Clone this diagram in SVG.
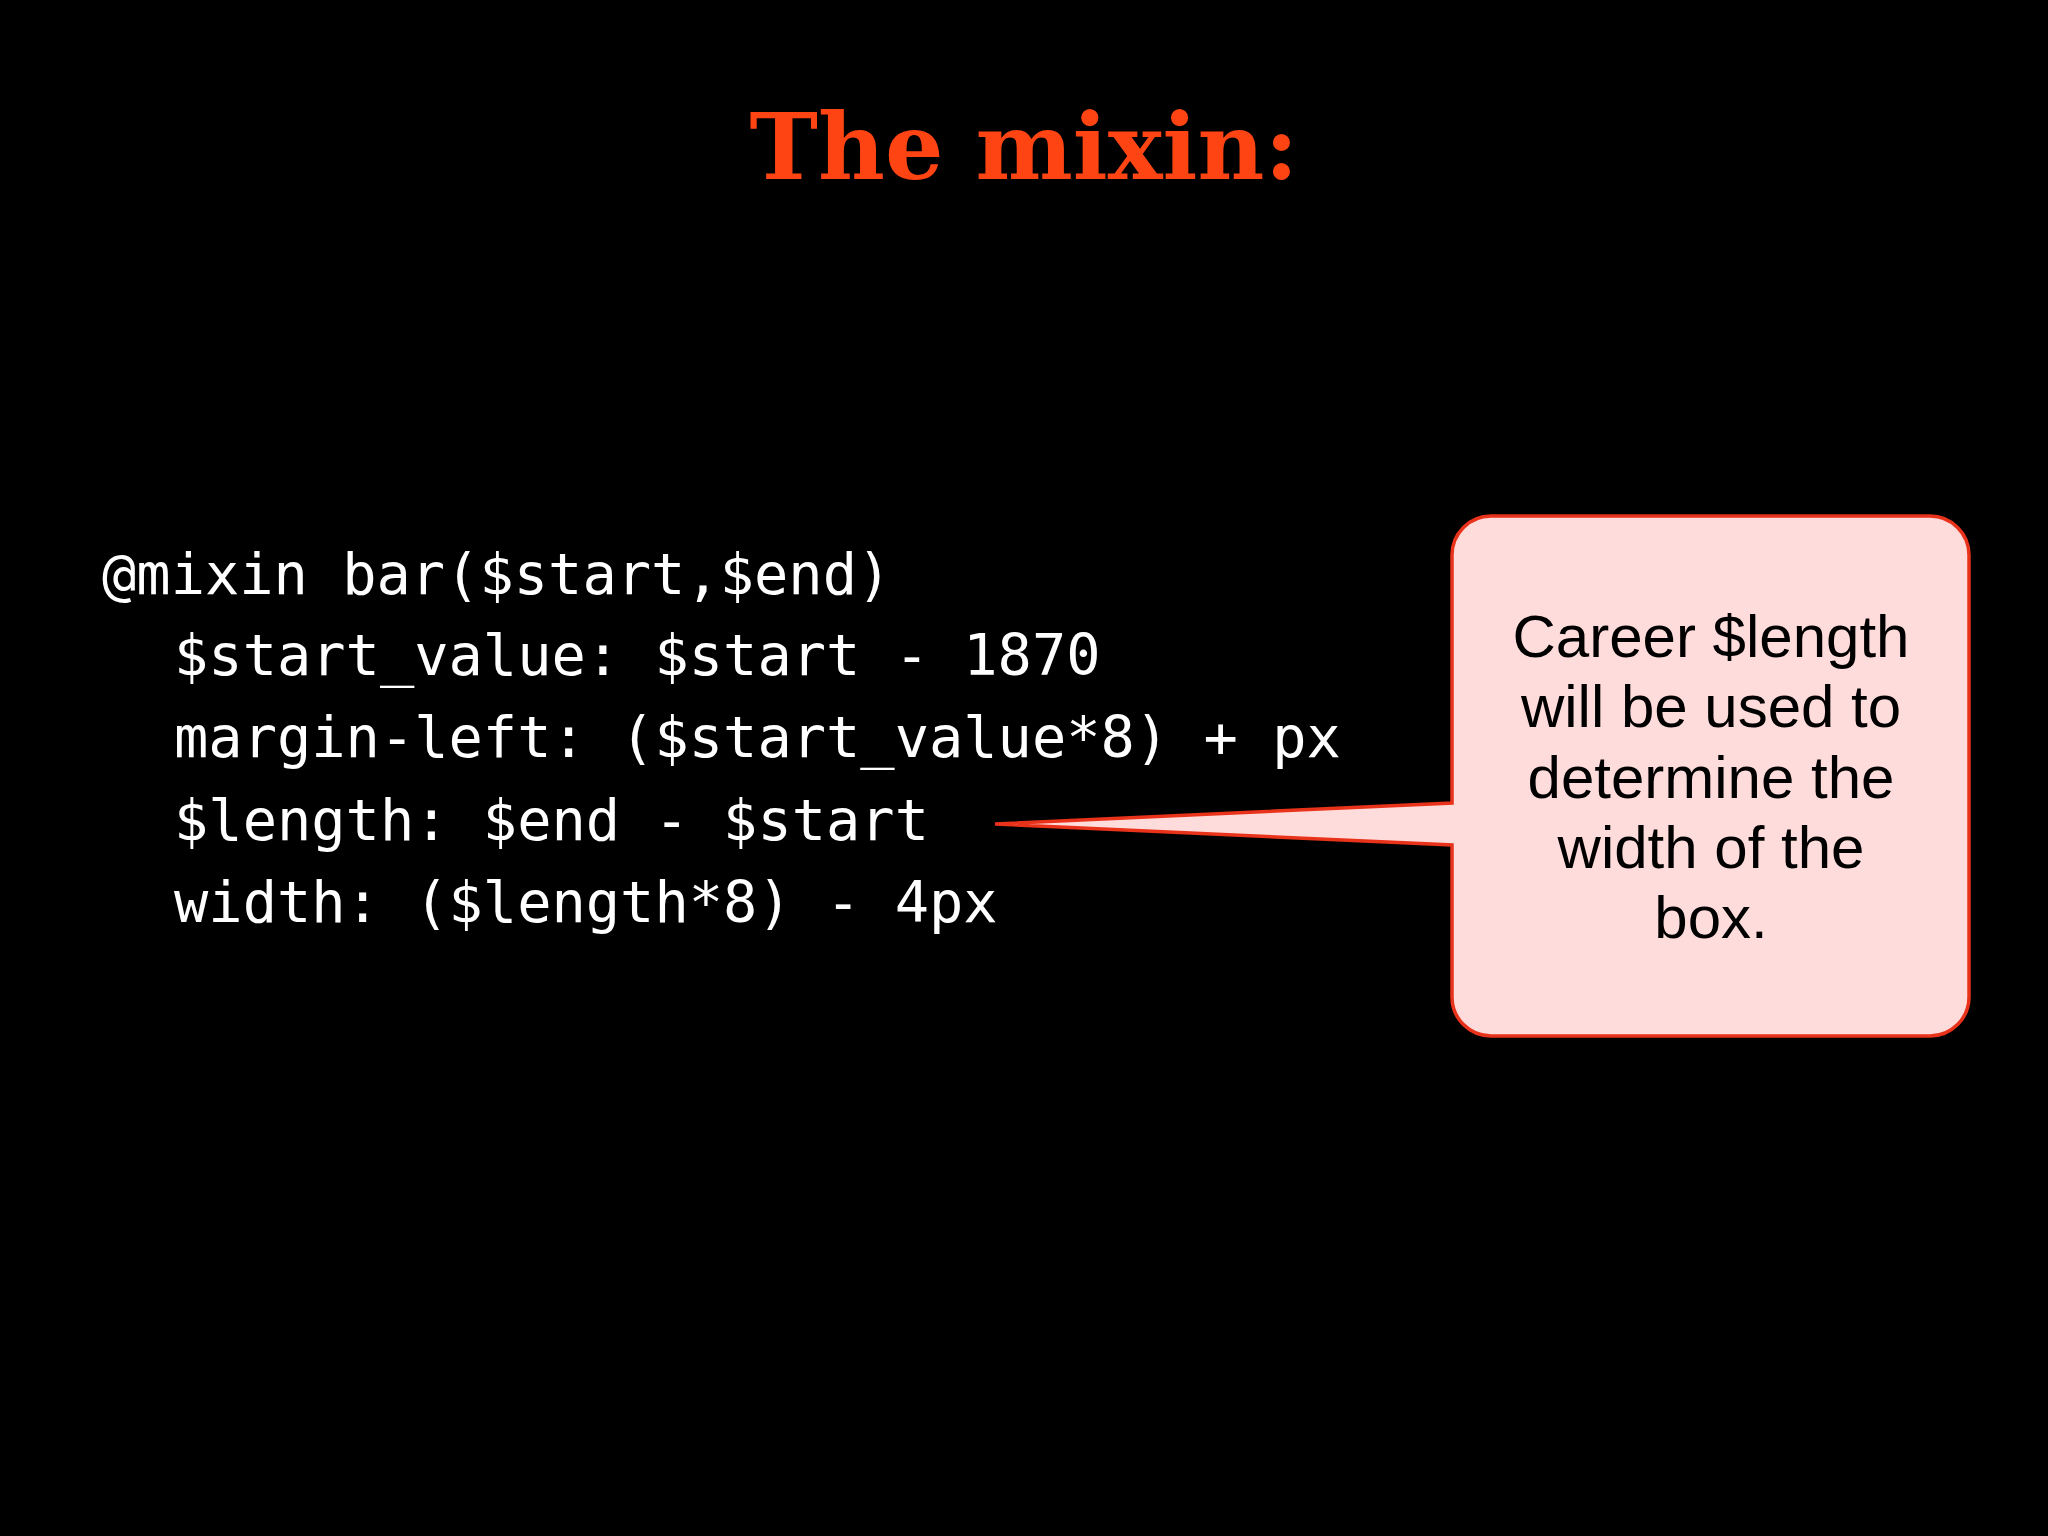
<svg xmlns="http://www.w3.org/2000/svg" width="2048" height="1536" viewBox="0 0 2048 1536">
<style>
.code{font-family:"DejaVu Sans Mono","Liberation Mono",monospace;font-size:57px;fill:#fff}
.call{font-family:"Liberation Sans","Noto Sans",sans-serif;font-size:60px;fill:#000;text-anchor:middle}
</style>
<rect width="2048" height="1536" fill="#000"/>
<text x="1024" y="179" text-anchor="middle" font-family="'DejaVu Serif','Liberation Serif',serif" font-weight="bold" font-size="92" fill="#ff4414">The mixin:</text>
<g id="code">
<text class="code" x="102" y="594">@mixin bar($start,$end)</text>
<text class="code" x="174" y="675">$start_value: $start - 1870</text>
<text class="code" x="174" y="757">margin-left: ($start_value*8) + px</text>
<text class="code" x="174" y="840">$length: $end - $start</text>
<text class="code" x="174" y="922">width: ($length*8) - 4px</text>
</g>
<g id="callout">
<path d="M1491,516 H1930 A39,39 0 0 1 1969,555 V997 A39,39 0 0 1 1930,1036 H1491 A39,39 0 0 1 1452,997 V845 L995,824 L1452,803 V555 A39,39 0 0 1 1491,516 Z" fill="#ffdcdc" stroke="#e8321a" stroke-width="3.5"/>
<text class="call" x="1711" y="657">Career $length</text>
<text class="call" x="1711" y="727">will be used to</text>
<text class="call" x="1711" y="798">determine the</text>
<text class="call" x="1711" y="868">width of the</text>
<text class="call" x="1711" y="938">box.</text>
</g>
</svg>
